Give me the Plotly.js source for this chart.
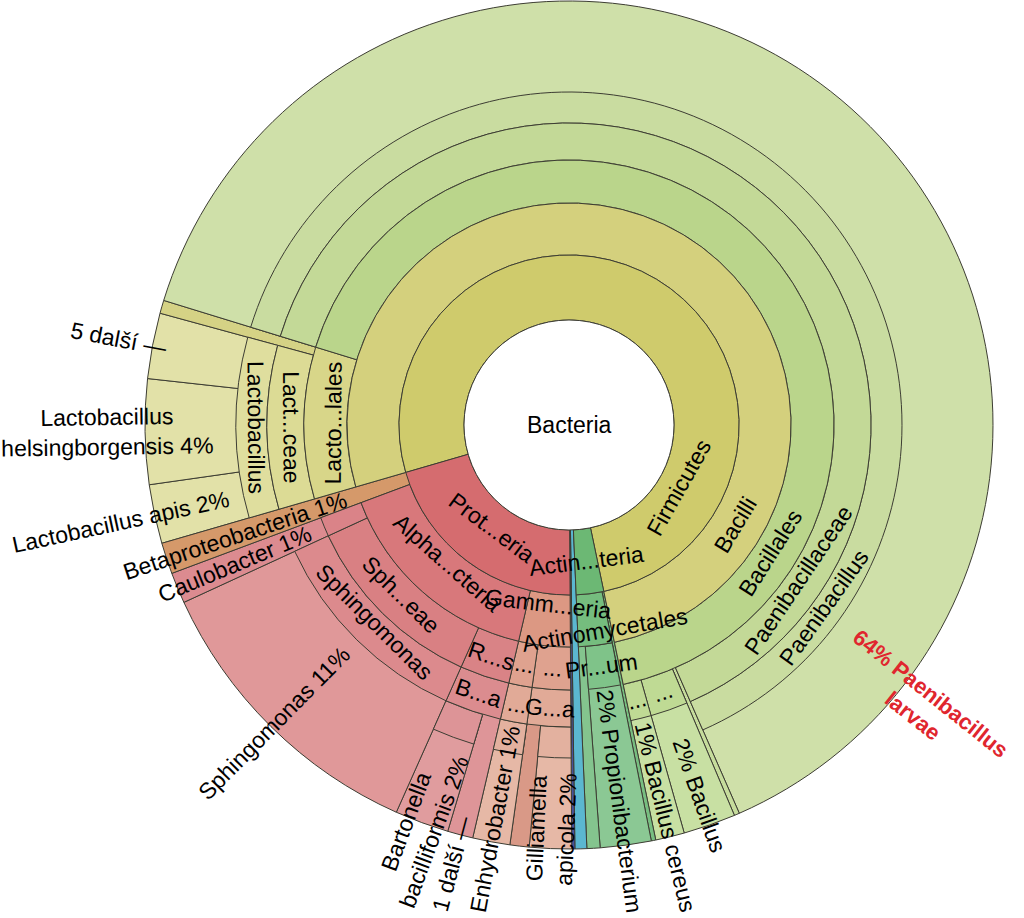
<!DOCTYPE html>
<html>
<head>
<meta charset="utf-8">
<script src="https://cdn.plot.ly/plotly-3.0.1.min.js"></script>
<style>
html,body{margin:0;padding:0;background:#ffffff;}
#chart{width:1024px;height:918px;}
</style>
</head>
<body>
<div id="chart"></div>
<script>
// ================= DATA =================
// Leaves (outermost wedges), clockwise, starting at the left edge of Firmicutes
const leafNames = [
  'Lactobacillus apis', 'Lactobacillus helsingborgensis', '5 další', 'Lactobacillales (ostatní)',
  'Paenibacillus larvae', 'Bacillales (ostatní)', 'Bacillus', 'Bacillus cereus',
  'Actinobacteria (ostatní)', 'Propionibacterium', 'Actinomycetales (ostatní)', 'Bacteria (ostatní)',
  'Bacteria (ostatní 2)',
  'Gilliamella apicola', 'Orbaceae (ostatní)', 'Enhydrobacter', '1 další',
  'Bartonella bacilliformis', 'Sphingomonas', 'Caulobacter', 'Betaproteobacteria'
];
const leafValues = [
  2.25, 4.0, 2.5, 0.5,
  63.7, 0.2, 2.0, 1.1,
  0.17, 1.94, 0.5, 0.45,
  0.12,
  1.6, 0.73, 1.42, 0.97,
  2.06, 11.46, 1.18, 1.19
];
const leafParents = [
  'Firmicutes/Bacilli/Lactobacillales/Lactobacillaceae/Lactobacillus',
  'Firmicutes/Bacilli/Lactobacillales/Lactobacillaceae/Lactobacillus',
  'Firmicutes/Bacilli/Lactobacillales/Lactobacillaceae/Lactobacillus',
  'Firmicutes/Bacilli/Lactobacillales',
  'Firmicutes/Bacilli/Bacillales/Paenibacillaceae/Paenibacillus',
  'Firmicutes/Bacilli/Bacillales',
  'Firmicutes/Bacilli/Bacillales/Bacillaceae',
  'Firmicutes/Bacilli/Bacillales/Bacillaceae II',
  'Actinobacteria',
  'Actinobacteria/Actinomycetales/Propionibacterineae',
  'Actinobacteria/Actinomycetales',
  '',
  '',
  'Proteobacteria/Gammaproteobacteria/Orbales/Orbaceae/Gilliamella',
  'Proteobacteria/Gammaproteobacteria/Orbales/Orbaceae',
  'Proteobacteria/Gammaproteobacteria/Pseudomonadales/Moraxellaceae/Enhydrobacter',
  'Proteobacteria/Alphaproteobacteria/Rhizobiales/Bartonellaceae',
  'Proteobacteria/Alphaproteobacteria/Rhizobiales/Bartonellaceae/Bartonella',
  'Proteobacteria/Alphaproteobacteria/Sphingomonadaceae/Sphingomonas',
  'Proteobacteria/Alphaproteobacteria/Caulobacterales',
  'Proteobacteria'
];
// Displayed leaf labels ('' = no label); percentages are computed from the values
const leafLabels = [
  'Lactobacillus apis', 'Lactobacillus<br>helsingborgensis', '5 další —', '',
  'Paenibacillus<br>larvae', '', 'Bacillus', 'Bacillus cereus',
  '', 'Propionibacterium', '', '',
  '',
  'Gilliamella<br>apicola', '', 'Enhydrobacter', '1 další —',
  'Bartonella<br>bacilliformis', 'Sphingomonas', 'Caulobacter', 'Betaproteobacteria'
];
const leafColors = [
  '#e2e1a8', '#e2e1a8', '#e2e1a8', '#d5d285',
  '#cfe0a9', '#c6dc9c', '#c8e0a3', '#c8e0a3',
  '#78be81', '#8bc894', '#84c48e', '#5bb7d0',
  '#46529c',
  '#e6b8a6', '#d99987', '#e6b8a6', '#de9598',
  '#e09c9e', '#e09899', '#dc8b90', '#d5996a'
];
const highlightLeaf = 'Paenibacillus larvae';

// Inner (non-leaf) nodes
const nodePaths = [
  'Firmicutes', 'Actinobacteria', 'Proteobacteria',
  'Firmicutes/Bacilli', 'Actinobacteria/Actinomycetales',
  'Proteobacteria/Gammaproteobacteria', 'Proteobacteria/Alphaproteobacteria',
  'Firmicutes/Bacilli/Lactobacillales', 'Firmicutes/Bacilli/Bacillales',
  'Actinobacteria/Actinomycetales/Propionibacterineae',
  'Proteobacteria/Gammaproteobacteria/Orbales', 'Proteobacteria/Gammaproteobacteria/Pseudomonadales',
  'Proteobacteria/Alphaproteobacteria/Rhizobiales', 'Proteobacteria/Alphaproteobacteria/Sphingomonadaceae',
  'Proteobacteria/Alphaproteobacteria/Caulobacterales',
  'Firmicutes/Bacilli/Lactobacillales/Lactobacillaceae', 'Firmicutes/Bacilli/Bacillales/Paenibacillaceae',
  'Firmicutes/Bacilli/Bacillales/Bacillaceae', 'Firmicutes/Bacilli/Bacillales/Bacillaceae II',
  'Proteobacteria/Gammaproteobacteria/Orbales/Orbaceae', 'Proteobacteria/Gammaproteobacteria/Pseudomonadales/Moraxellaceae',
  'Proteobacteria/Alphaproteobacteria/Rhizobiales/Bartonellaceae', 'Proteobacteria/Alphaproteobacteria/Sphingomonadaceae/Sphingomonas',
  'Firmicutes/Bacilli/Lactobacillales/Lactobacillaceae/Lactobacillus', 'Firmicutes/Bacilli/Bacillales/Paenibacillaceae/Paenibacillus',
  'Proteobacteria/Gammaproteobacteria/Orbales/Orbaceae/Gilliamella', 'Proteobacteria/Gammaproteobacteria/Pseudomonadales/Moraxellaceae/Enhydrobacter',
  'Proteobacteria/Alphaproteobacteria/Rhizobiales/Bartonellaceae/Bartonella'
];
const nodeLabels = [
  'Firmicutes', 'Actin...teria', 'Prot...eria',
  'Bacilli', 'Actinomycetales',
  'Gamm...eria', 'Alpha...cteria',
  'Lacto...lales', 'Bacillales',
  'Pr...um',
  '...', '...',
  'R...s', 'Sph...eae',
  '',
  'Lact...ceae', 'Paenibacillaceae',
  '...', '...',
  'G...a', '...',
  'B...a', 'Sphingomonas',
  'Lactobacillus', 'Paenibacillus',
  '', '',
  ''
];
const nodeColors = [
  '#cfcb6c', '#6cb874', '#d56c6f',
  '#d4d07d', '#75bd7e',
  '#dc9883', '#d8787b',
  '#d8d689', '#bad58b',
  '#7fc389',
  '#dfa28f', '#dfa28f',
  '#d98386', '#d98083',
  '#da8388',
  '#dcdb95', '#c3d997',
  '#bfda94', '#bfda94',
  '#e1aa97', '#e1aa97',
  '#db8c8f', '#dc8a8d',
  '#dfde9e', '#c9dca0',
  '#e3b19f', '#e3b19f',
  '#dd9497'
];
const rootLabel = 'Bacteria';

// ================= LAYOUT CONSTANTS =================
const W = 1024, H = 918;
const CX = 569, CY = 425;                       // centre of the chart (px)
const RADII = [105, 170, 222, 265, 302, 333, 424]; // hole, then outer radius of rings 1..6
const START = 253.8;                            // bearing (deg, clockwise from 12 o'clock) of first leaf edge
const FONT = '"Liberation Sans", Arial, sans-serif';
const FS = 23, FS_BOLD = 22;
const LINE = '#3d3d33';
const LEAF_PAD = 15, LEAF_MIN_R = 235;
const bigBearing = d => 118 + 1.5 * d;          // label bearing for wedges wider than 180 deg
// small label nudges (radial px, bearing deg) to keep neighbouring texts apart
const labelNudge = {
  'Actinobacteria/Actinomycetales': {dr: 12, db: -3},
  'Proteobacteria/Gammaproteobacteria': {dr: -16, db: 0},
  'Bacillus': {dr: 16, db: 0},
  'Lactobacillus helsingborgensis': {dr: 8, db: 0},
  'Paenibacillus larvae': {dr: 7, db: 1.5}
};

// ================= BUILD =================
const total = leafValues.reduce((a, b) => a + b, 0);
const leaves = leafNames.map((n, i) => ({
  name: n, value: leafValues[i], color: leafColors[i], label: leafLabels[i],
  path: leafParents[i] ? leafParents[i].split('/') : []
}));
let cum = 0;
leaves.forEach(l => {
  l.depth = l.path.length + 1;
  l.a0 = START + 360 * cum / total;
  cum += l.value;
  l.a1 = START + 360 * cum / total;
});
const nodeIdx = {};
nodePaths.forEach((p, i) => nodeIdx[p] = i);

function dom(r) {
  return {x: [(CX - r) / W, (CX + r) / W], y: [1 - (CY + r) / H, 1 - (CY - r) / H]};
}
function pieTrace(slices, rOut, rIn) {
  return {
    type: 'pie', sort: false, direction: 'clockwise', rotation: START - 360,
    values: slices.map(s => s.value), labels: slices.map(s => s.key),
    marker: {
      colors: slices.map(s => s.color),
      line: {color: slices.map(s => s.opaque ? LINE : 'rgba(0,0,0,0)'), width: slices.map(s => s.opaque ? 1 : 0)}
    },
    hole: rIn / rOut, textinfo: 'none', hoverinfo: 'skip', showlegend: false, domain: dom(rOut)
  };
}
const traces = [];
// outer ring: every leaf, full sector (inner rings are drawn over it)
traces.push(pieTrace(leaves.map((l, i) => ({key: 'leaf' + i, value: l.value, color: l.color, opaque: true})), RADII[6], 0));
// rings 5..1
for (let j = 5; j >= 1; j--) {
  const slices = [];
  leaves.forEach((l, i) => {
    let s;
    if (l.depth > j) {
      const key = l.path.slice(0, j).join('/');
      s = {key: key, value: l.value, color: nodeColors[nodeIdx[key]], opaque: true};
    } else {
      s = {key: 'gap' + i, value: l.value, color: 'rgba(0,0,0,0)', opaque: false};
    }
    const last = slices[slices.length - 1];
    if (last && last.key === s.key) last.value += s.value; else slices.push(s);
  });
  traces.push(pieTrace(slices, RADII[j], RADII[j - 1]));
}
// centre hole
traces.push({
  type: 'pie', values: [1], labels: [rootLabel], sort: false,
  marker: {colors: ['#ffffff'], line: {color: LINE, width: 1}},
  textinfo: 'none', hoverinfo: 'skip', showlegend: false, domain: dom(RADII[0])
});

// ================= LABELS =================
const ctx = document.createElement('canvas').getContext('2d');
function tw(s, size, bold) {
  ctx.font = (bold ? 'bold ' : '') + size + 'px "Liberation Sans"';
  return ctx.measureText(s).width;
}
const rad = d => d * Math.PI / 180;
const norm = b => ((b % 360) + 360) % 360;
function toPaper(r, b) {
  return {x: (CX + r * Math.sin(rad(b))) / W, y: 1 - (CY - r * Math.cos(rad(b))) / H};
}
const annotations = [];
annotations.push({x: CX / W, y: 1 - CY / H, xref: 'paper', yref: 'paper', text: rootLabel,
  showarrow: false, xanchor: 'center', yanchor: 'middle', font: {family: FONT, size: FS, color: '#000'}});

// inner node labels: tangential
nodePaths.forEach((p, i) => {
  const label = nodeLabels[i];
  if (!label) return;
  const depth = p.split('/').length;
  const ls = leaves.filter(l => l.path.slice(0, depth).join('/') === p);
  const a0 = ls[0].a0, a1 = ls[ls.length - 1].a1;
  const nd = labelNudge[p] || {dr: 0, db: 0};
  const b = norm(((a1 - a0) > 180 ? bigBearing(depth) : (a0 + a1) / 2) + nd.db);
  const rIn = RADII[depth - 1], rOut = RADII[depth], rMid = (rIn + rOut) / 2;
  const w = tw(label, FS, false);
  const arc = rMid * rad(a1 - a0);
  let rc = w < arc ? Math.sqrt(Math.max(rMid * rMid - w * w / 4, 0)) : rMid;
  rc = Math.max(rc, rIn + FS * 0.5) + nd.dr;
  const rot = (b > 90 && b < 270) ? b - 180 : (b >= 270 ? b - 360 : b);
  const pos = toPaper(rc, b);
  annotations.push({x: pos.x, y: pos.y, xref: 'paper', yref: 'paper', text: label, textangle: rot,
    showarrow: false, xanchor: 'center', yanchor: 'middle', font: {family: FONT, size: FS, color: '#000'}});
});

// leaf labels: radial, percentage at the inner end, kept inside the picture vertically
leaves.forEach(l => {
  if (!l.label) return;
  const big = (l.a1 - l.a0) > 180;
  const nd = labelNudge[l.name] || {dr: 0, db: 0};
  const b = norm((big ? bigBearing(6) : (l.a0 + l.a1) / 2) + nd.db);
  const right = b < 180;
  const group = /další/.test(l.label);
  const hi = l.name === highlightLeaf;
  const pct = Math.round(100 * l.value / total);
  const lines = l.label.split('<br>');
  if (!group) {
    if (right) lines[0] = pct + '% ' + lines[0];
    else lines[lines.length - 1] = lines[lines.length - 1] + ' ' + pct + '%';
  }
  const size = hi ? FS_BOLD : FS;
  const w = Math.max(...lines.map(s => tw(s, size, hi)));
  const h = lines.length * size * 1.25;
  const rStart = group ? RADII[6] - 14 : Math.max(RADII[l.depth - 1] + LEAF_PAD, LEAF_MIN_R);
  let rc = rStart + w / 2 + nd.dr;
  const cb = Math.cos(rad(b)), sb = Math.abs(Math.sin(rad(b)));
  const ext = (w / 2) * Math.abs(cb) + (h / 2) * sb;
  if (cb < -0.05) rc = Math.min(rc, (H - 3 - CY - ext) / (-cb));
  else if (cb > 0.05) rc = Math.min(rc, (CY - 3 - ext) / cb);
  const rot = right ? b - 90 : b - 270;
  const pos = toPaper(rc, b);
  annotations.push({x: pos.x, y: pos.y, xref: 'paper', yref: 'paper',
    text: hi ? '<b>' + lines.join('<br>') + '</b>' : lines.join('<br>'), textangle: rot,
    showarrow: false, xanchor: 'center', yanchor: 'middle',
    font: {family: FONT, size: size, color: hi ? '#e0262e' : '#000'}});
});

const layout = {
  width: W, height: H, margin: {l: 0, r: 0, t: 0, b: 0},
  paper_bgcolor: '#ffffff', plot_bgcolor: '#ffffff',
  showlegend: false, hovermode: false, annotations: annotations
};
Plotly.newPlot('chart', traces, layout, {staticPlot: true, displayModeBar: false});
</script>
</body>
</html>
